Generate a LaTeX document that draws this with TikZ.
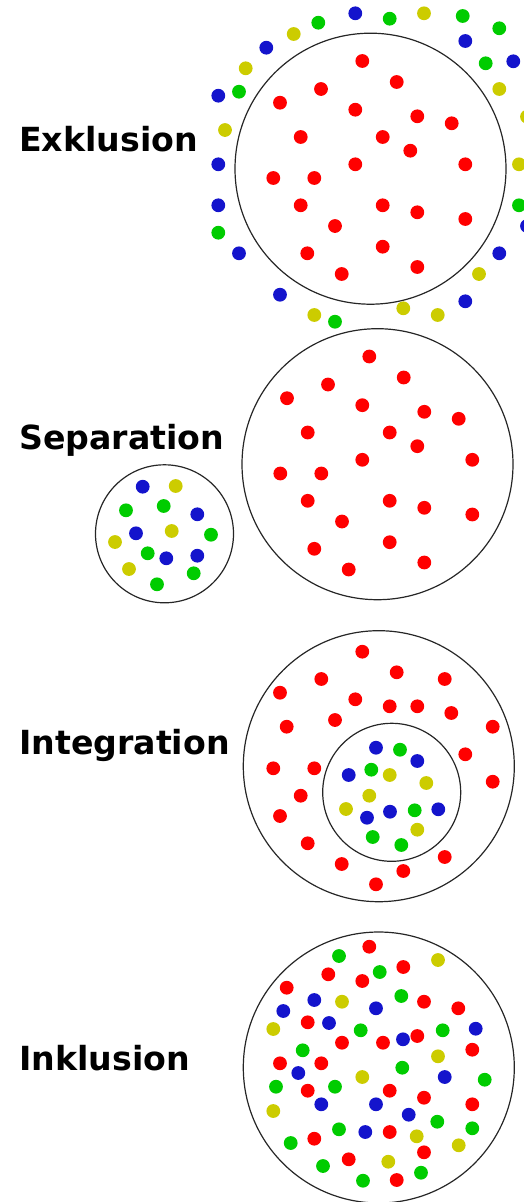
\documentclass[tikz,border=0pt]{standalone}
\usepackage{fontspec}
\setmainfont{DejaVu Sans}
\definecolor{DotRed}{RGB}{255,0,0}
\definecolor{DotGreen}{RGB}{0,204,0}
\definecolor{DotBlue}{RGB}{20,20,204}
\definecolor{DotYellow}{RGB}{204,204,0}
\newcommand{\DotSet}[2]{\foreach \x/\y in {#2} \fill[#1] (\x,\y) circle (\DotRadius pt);}

\begin{document}
\begin{tikzpicture}[x=1pt, y=-1pt,
				GroupCircle/.style={draw=black!85, line width=1.2pt},
				GroupLabel/.style={anchor=base west, inner sep=0pt, font=\fontsize{33.2}{40}\selectfont\bfseries}
				]
				\pgfmathsetmacro{\DotRadius}{6.9}
				\pgfmathsetmacro{\BigRadius}{135.5}
				\pgfmathsetmacro{\SmallRadius}{69}
				\useasboundingbox (0,0) rectangle (523,1202);
				\def\CoreReds{362.3/61, 396.7/82, 321/89, 280/102.7, 355.3/109.7, 417.3/116.3, 451.7/123.3, 300.7/137, 382.7/137, 410.3/150.7, 355.3/164.3, 465.3/164.3, 273.3/178, 314.3/178, 300.7/205.3, 382.7/205.3, 417.3/212.3, 465.3/219, 335/226, 307.3/253.3, 382.7/246.7, 341.7/274, 417.3/267}
				% Exklusion
				\node[GroupLabel] (ExklusionLabel) at (19,151) {Exklusion};
				\coordinate (ExklusionCentre) at (370.5,168.7);
				\draw[GroupCircle] (ExklusionCentre) circle (\BigRadius pt);
				\foreach \x/\y in \CoreReds \fill[DotRed] (\x,\y) circle (\DotRadius pt);
				\DotSet{DotBlue}{355.3/13.3, 465.3/41, 266.3/47.7, 218.3/95.7, 218.3/164.3, 218.3/205.3, 239/253.3, 280/294.7, 465.3/301.3, 499.3/253.3, 513.3/61.3, 527/226}
				\DotSet{DotGreen}{389.7/18.7, 462.7/16, 499.3/28.3, 318.3/22.7, 239/91.7, 218.3/232.7, 335/321.7, 485.7/63.3, 519/205.3}
				\DotSet{DotYellow}{424/13.3, 293.7/34, 245.7/68.3, 225/130, 314.3/315, 403.3/308.3, 437.7/315, 479/274, 499.3/89, 527/116.7, 519/164.3}
				% Separation
				\node[GroupLabel] (SeparationLabel) at (19,449.3) {Separation};
				\coordinate (SeparationCentre) at (377.5,464.2);
				\coordinate (SeparationSmallCentre) at (164.5,533.8);
				\draw[GroupCircle] (SeparationCentre) circle (\BigRadius pt);
				\draw[GroupCircle] (SeparationSmallCentre) circle (\SmallRadius pt);
				\begin{scope}[shift={(7,295.5)}]
					\foreach \x/\y in \CoreReds \fill[DotRed] (\x,\y) circle (\DotRadius pt);
				\end{scope}
				\DotSet{DotBlue}{142.7/486.7, 197.3/514.3, 136/533.3, 166.3/558.3, 197.3/555.7}
				\DotSet{DotGreen}{126/510.3, 163.7/506, 211/534.7, 147.7/553.3, 193.7/573.3, 157/584.3}
				\DotSet{DotYellow}{175.7/486, 171.7/531, 115/542, 129/569}
				% Integration
				\node[GroupLabel] (IntegrationLabel) at (19,754.3) {Integration};
				\coordinate (IntegrationCentre) at (378.8,766.2);
				\coordinate (IntegrationInnerCentre) at (391.7,792.3);
				\draw[GroupCircle] (IntegrationCentre) circle (\BigRadius pt);
				\draw[GroupCircle] (IntegrationInnerCentre) circle (\SmallRadius pt);
				\DotSet{DotRed}{362.3/651.7, 396.7/672.3, 321.3/679, 444.7/679, 280/692.7, 355.3/699.3, 389.7/706.3, 417.3/706.3, 451.3/713, 335/720, 286.7/726.7, 492.7/726.7, 465.3/754.3, 273.3/768.3, 314.3/768.3, 492.7/781.7, 300.7/795.7, 280/816, 307.7/843.3, 444.7/857, 341.7/864, 403.3/871, 376/884.3}
				\DotSet{DotBlue}{376/747.7, 417.3/761, 348.7/775, 367/817.7, 390/811.7, 438.3/809.3}
				\DotSet{DotGreen}{400/749.7, 371.3/769.7, 414.7/810.3, 372.7/837, 401.3/845}
				\DotSet{DotYellow}{389.7/775, 426.3/783, 369.3/795.7, 346/809, 417.3/829.7}
				% Inklusion
				\node[GroupLabel] (InklusionLabel) at (19,1070) {Inklusion};
				\coordinate (InklusionCentre) at (378.8,1067.5);
				\draw[GroupCircle] (InklusionCentre) circle (\BigRadius pt);
				\DotSet{DotRed}{369.3/946.7, 403.3/967, 328.3/974.3, 362.3/981, 286.7/987.7, 424/1001.7, 458.3/1008.3, 307.7/1022.3, 417.3/1036, 342/1042.7, 383/1042.7, 472.3/1049.7, 280/1063.3, 321.3/1063.3, 307.7/1090.7, 389.7/1090.7, 424/1097.7, 472.3/1104.3, 389.7/1132, 314.3/1138.7, 424/1152.3, 348.7/1159.3, 396.7/1180}
				\DotSet{DotGreen}{339/956, 379.7/972, 401.3/996, 360.7/1030.3, 442.7/1030.3, 302.7/1050.3, 402.3/1067.7, 484.7/1079.7, 276/1086.7, 335/1086.7, 437.3/1121.7, 339/1129.3, 472.3/1128.3, 290.7/1143, 323/1166, 421/1172.7, 363/1180.7}
				\DotSet{DotBlue}{314.3/1000, 283.3/1011, 376/1008.3, 329/1023, 403/1039.3, 475.7/1028.7, 298.3/1073, 444.7/1077, 321.3/1104.3, 376/1104.3, 408.7/1114.7, 365.3/1132}
				\DotSet{DotYellow}{438/960, 342/1001.7, 273.3/1029, 438/1056.3, 362.3/1077, 273.3/1111, 416.7/1136.3, 458.7/1145.3, 388.3/1161.7}
			\end{tikzpicture}
\end{document}
